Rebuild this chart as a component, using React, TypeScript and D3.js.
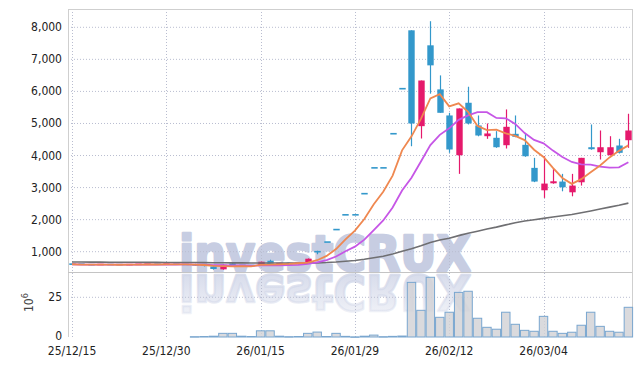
import React from "react";
import * as d3 from "d3";

const dates = [
  "25/12/15","25/12/16","25/12/17","25/12/18","25/12/19","25/12/22","25/12/23","25/12/24","25/12/26","25/12/29",
  "25/12/30","26/01/02","26/01/05","26/01/06","26/01/07","26/01/08","26/01/09","26/01/12","26/01/13","26/01/14",
  "26/01/15","26/01/16","26/01/19","26/01/20","26/01/21","26/01/22","26/01/23","26/01/26","26/01/27","26/01/28",
  "26/01/29","26/01/30","26/02/02","26/02/03","26/02/04","26/02/05","26/02/06","26/02/09","26/02/10","26/02/11",
  "26/02/12","26/02/13","26/02/19","26/02/20","26/02/23","26/02/24","26/02/25","26/02/26","26/02/27","26/03/03",
  "26/03/04","26/03/05","26/03/06","26/03/09","26/03/10","26/03/11","26/03/12","26/03/13","26/03/16","26/03/17",
];

const opens = [
  612,610,595,590,600,598,590,596,600,610,604,612,605,
  615,585,540,450,634,572,572,572,719,625,630,622,666,
  1000,1300,1690,2150,2150,2810,3615,3615,4680,6085,
  7906,4916,7438,6063,5250,4009,5646,4938,4603,4553,4322,4677,4334,3615,2916,3134,3188,2853,3166,4259,4103,4009,4313,4478,
];
const highs = [
  620,615,600,605,610,605,600,612,615,620,615,620,615,
  625,590,545,600,640,578,580,690,750,640,640,640,790,
  1030,1300,1690,2150,2150,2810,3615,3615,4680,6085,
  7906,6340,8190,6500,5333,5469,6146,5250,5000,4760,5438,5250,4677,3928,3978,3584,3428,3428,3928,4969,4781,4603,4521,5303,
];
const lows = [
  600,585,580,585,590,585,580,590,595,600,598,600,595,
  560,540,440,440,555,560,525,560,620,610,615,615,660,
  920,1300,1690,2150,2150,2810,3615,3615,4680,6085,
  4290,4531,5930,5333,4084,3428,4970,4600,4521,4240,4219,4570,3960,3170,2678,3120,2884,2728,3063,4180,3875,4000,4063,4240,
];
const closes = [
  608,590,585,600,598,590,596,606,610,604,612,605,600,
  565,545,460,594,562,566,530,687,625,630,622,635,781,
  1000,1300,1690,2150,2150,2810,3615,3615,4680,6085,
  5000,6340,6813,5333,4188,5469,5000,4625,4688,4259,4896,4584,3978,3188,3125,3197,3009,3063,3928,4197,4259,4259,4084,4781,
];
// volume in 10^6 shares
const volumes = [
  0,0,0,0,0,0,0,0,0,0,0,0,0,
  0.2,0.3,0.5,2.3,2.3,0.5,0.3,3.9,3.9,0.5,0.2,0.3,2.3,
  3.1,0.3,2.3,0.4,0.1,0.5,1.2,0.2,0.4,0.6,
  34.4,16.8,37.6,12.4,15.6,28.1,28.8,11.8,6.1,4.9,15.6,8.0,4.2,3.6,13.0,3.6,2.3,3.0,7.4,15.6,6.7,3.6,3.0,18.7,
];
// 60-day moving average
const ma60 = [
  679,677,676,674,673,672,670,669,668,667,665,664,663,661,659,655,654,652,650,647,
  647,646,646,645,644,645,651,661,678,702,727,762,811,860,927,1017,1089,1183,1286,1363,
  1422,1501,1573,1639,1706,1766,1836,1901,1956,1998,2039,2080,2119,2159,2213,2272,2331,2391,2448,2516,
];

const priceTicks = [1000, 2000, 3000, 4000, 5000, 6000, 7000, 8000];
const volumeTicks = [0, 25];
const xTickLabels = ["25/12/15", "25/12/30", "26/01/15", "26/01/29", "26/02/12", "26/03/04"];

const L = 68, R = 632, T = 9, SEP = 272, B = 337;
const UP = "#e5196c", DOWN = "#3398cb";
const FONT = "'DejaVu Sans Condensed', 'DejaVu Sans', sans-serif";

function movingAvg(n: number) {
  return closes.map((_, i) => {
    const s = Math.max(0, i - n + 1);
    return d3.mean(closes.slice(s, i + 1)) as number;
  });
}

export default function App() {
  const x = d3.scaleBand<string>().domain(dates).range([67.3, 633.1]).padding(0);
  const bw = x.bandwidth();
  const cx = (i: number) => (x(dates[i]) as number) + bw / 2;
  const yP = d3.scaleLinear().domain([1000, 8000]).range([251.7, 27.3]);
  const yV = d3.scaleLinear().domain([0, 25]).range([337, 297.3]);
  const fmt = d3.format(",");

  const ma5 = movingAvg(5);
  const ma10 = movingAvg(10);
  const line = d3.line<number>().x((_, i) => cx(i)).y((d) => yP(d));

  const bodyW = 6.4;

  return (
    <svg width={641} height={366} style={{ position: "fixed", left: 0, top: 0, background: "#fff" }}>
      <defs>
        <linearGradient id="refl" gradientUnits="userSpaceOnUse" x1="0" y1="272" x2="0" y2="232">
          <stop offset="0" stopColor="#d3d8e9" stopOpacity={0.9} />
          <stop offset="1" stopColor="#d3d8e9" stopOpacity={0.35} />
        </linearGradient>
        <clipPath id="volclip">
          <rect x={L} y={SEP + 1} width={R - L} height={B - SEP} />
        </clipPath>
      </defs>

      {/* watermark */}
      <text x={179} y={271} fontFamily="'DejaVu Sans', sans-serif" fontWeight="bold" fontSize={50}
        fill="#c7cde2" stroke="#c7cde2" strokeWidth={2.5} strokeLinejoin="round"
        textLength={292} lengthAdjust="spacingAndGlyphs">investCRUX</text>
      <g clipPath="url(#volclip)">
        <text x={179} y={271} transform="translate(0,546) scale(1,-1)" fontFamily="'DejaVu Sans', sans-serif"
          fontWeight="bold" fontSize={50} fill="url(#refl)" stroke="url(#refl)" strokeWidth={2.5} strokeLinejoin="round"
          textLength={292} lengthAdjust="spacingAndGlyphs">investCRUX</text>
      </g>

      {/* grid */}
      {priceTicks.map((t) => (
        <line key={"pg" + t} x1={L} x2={R} y1={yP(t)} y2={yP(t)} stroke="#b9bdd0" strokeWidth={1} strokeDasharray="1,2" />
      ))}
      {volumeTicks.filter((t) => t > 0).map((t) => (
        <line key={"vg" + t} x1={L} x2={R} y1={yV(t)} y2={yV(t)} stroke="#b9bdd0" strokeWidth={1} strokeDasharray="1,2" />
      ))}
      {xTickLabels.map((d) => {
        const xx = Math.round(cx(dates.indexOf(d))) + 0.5;
        return <line key={"xg" + d} x1={xx} x2={xx} y1={T} y2={B} stroke="#b9bdd0" strokeWidth={1} strokeDasharray="1,2" />;
      })}

      {/* frame */}
      <line x1={L} x2={R} y1={T + 0.5} y2={T + 0.5} stroke="#cfcfcf" />
      <line x1={L + 0.5} x2={L + 0.5} y1={T} y2={B} stroke="#cfcfcf" />
      <line x1={R + 0.5} x2={R + 0.5} y1={T} y2={B} stroke="#cfcfcf" />
      <line x1={L} x2={R} y1={SEP + 0.5} y2={SEP + 0.5} stroke="#c4c4c4" />

      {/* volume bars */}
      {volumes.map((v, i) =>
        v > 0 ? (
          <rect key={"v" + i} x={(x(dates[i]) as number) + 0.5} y={yV(v)} width={bw - 1} height={Math.max(0.5, yV(0) - yV(v))}
            fill="rgba(210,210,214,0.82)" stroke="#79a6cf" strokeWidth={1} />
        ) : null
      )}

      {/* candles */}
      {dates.map((d, i) => {
        const o = opens[i], c = closes[i], h = highs[i], l = lows[i];
        const col = c > o ? UP : DOWN;
        const xc = Math.round(cx(i)) + 0.5;
        const top = yP(Math.max(o, c));
        const bot = yP(Math.min(o, c));
        const hgt = Math.max(1.6, bot - top);
        return (
          <g key={"c" + i}>
            {h > l && <line x1={xc} x2={xc} y1={yP(h)} y2={yP(l)} stroke={col} strokeWidth={1.2} />}
            <rect x={xc - bodyW / 2} y={top - (bot - top < 1.6 ? 0.8 : 0)} width={bodyW} height={hgt} fill={col} />
          </g>
        );
      })}

      {/* moving averages */}
      <path d={line(ma60) as string} fill="none" stroke="#6f6f72" strokeWidth={1.6} />
      <path d={line(ma10) as string} fill="none" stroke="#c656e6" strokeWidth={1.8} />
      <path d={line(ma5) as string} fill="none" stroke="#ef8850" strokeWidth={1.8} />

      {/* axes labels */}
      <g fontFamily={FONT} fontSize={12} fill="#222" style={{ fontStretch: "condensed" }}>
        {priceTicks.map((t) => (
          <text key={"pl" + t} x={62} y={yP(t)} textAnchor="end" dominantBaseline="central">{fmt(t)}</text>
        ))}
        {volumeTicks.map((t) => (
          <text key={"vl" + t} x={62} y={yV(t) - (t === 0 ? 1 : 0)} textAnchor="end" dominantBaseline="central">{t}</text>
        ))}
        {xTickLabels.map((d) => (
          <text key={"xl" + d} x={cx(dates.indexOf(d))} y={355} textAnchor="middle">{d}</text>
        ))}
        <text transform="translate(33,312) rotate(-90)" fill="#444" fontSize={12}>
          10<tspan dy={-5} fontSize={9}>6</tspan>
        </text>
      </g>
    </svg>
  );
}
